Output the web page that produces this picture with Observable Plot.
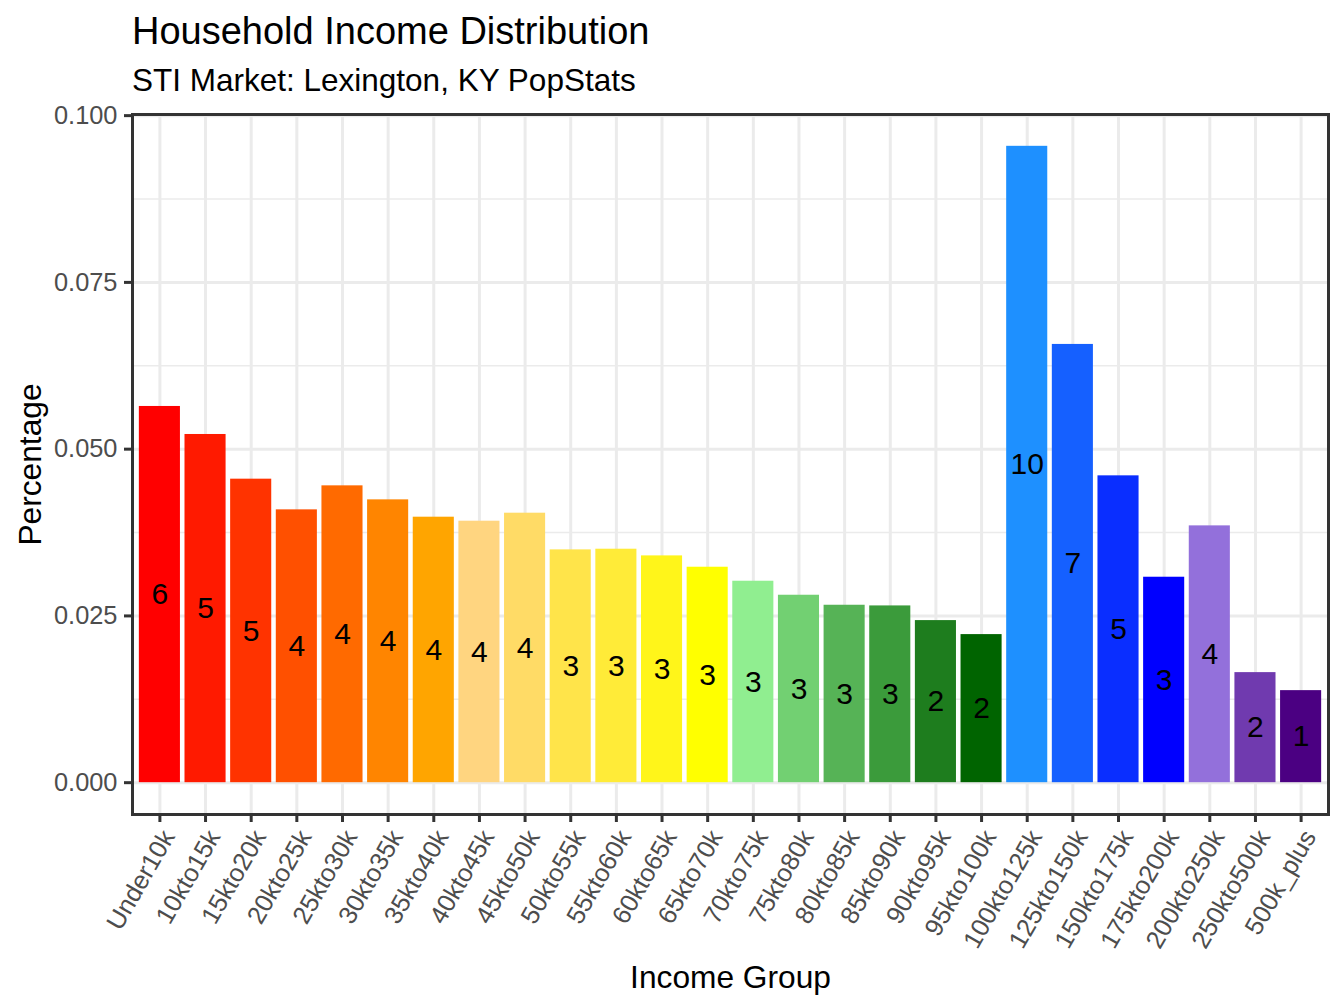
<!DOCTYPE html>
<html>
<head>
<meta charset="utf-8">
<script src="https://cdn.jsdelivr.net/npm/d3@7"></script>
<script src="https://cdn.jsdelivr.net/npm/@observablehq/plot@0.6"></script>
<style>
  html, body { margin: 0; padding: 0; background: #fff; }
  body { width: 1344px; height: 1008px; overflow: hidden; font-family: "Liberation Sans", Arial, sans-serif; }
  #title { position: absolute; left: 132px; top: 12px; font-size: 38px; line-height: 38px; color: #000; white-space: nowrap; }
  #subtitle { position: absolute; left: 132px; top: 64px; font-size: 31.5px; line-height: 32px; color: #000; white-space: nowrap; }
  #chart { position: absolute; left: 0; top: 100px; }
</style>
</head>
<body>
<div id="title">Household Income Distribution</div>
<div id="subtitle">STI Market: Lexington, KY PopStats</div>
<div id="chart"></div>
<script>
const groups = ["Under10k","10kto15k","15kto20k","20kto25k","25kto30k","30kto35k","35kto40k","40kto45k","45kto50k","50kto55k","55kto60k","60kto65k","65kto70k","70kto75k","75kto80k","80kto85k","85kto90k","90kto95k","95kto100k","100kto125k","125kto150k","150kto175k","175kto200k","200kto250k","250kto500k","500k_plus"];
const values = [0.0564,0.0522,0.0455,0.0409,0.0445,0.0424,0.0398,0.0392,0.0404,0.0349,0.0350,0.0340,0.0323,0.0302,0.0281,0.0266,0.0265,0.0243,0.0222,0.0954,0.0657,0.0460,0.0308,0.0385,0.0165,0.0138];
const labels = ["6","5","5","4","4","4","4","4","4","3","3","3","3","3","3","3","3","2","2","10","7","5","3","4","2","1"];
const colors = ["#FF0000","#FF1A00","#FF3300","#FF5000","#FF6A00","#FF8500","#FFA500","#FFD580","#FFDB66","#FFE44A","#FFEB38","#FFF51A","#FFFF00","#90EE90","#72D072","#56B356","#3B9B3B","#1E7D1E","#006400","#1E90FF","#1560FF","#0A2EFF","#0000FF","#9370DB","#703AAF","#4B0082"];
const yTicks = [0, 0.025, 0.05, 0.075, 0.1];
const yMinor = [0.0125, 0.0375, 0.0625, 0.0875];
const xTitle = "Income Group";
const yTitle = "Percentage";

const data = groups.map((g, i) => ({group: g, value: values[i], label: labels[i], color: colors[i]}));
const vmax = d3.max(values);
const pad = vmax * 0.05;
const font = "Liberation Sans, Arial, sans-serif";

const chart = Plot.plot({
  width: 1344,
  height: 908,
  marginLeft: 132,
  marginRight: 16,
  marginTop: 14,
  marginBottom: 194,
  style: {fontFamily: font, background: "#fff"},
  x: {type: "band", domain: groups, paddingInner: 0.1, paddingOuter: 0.15, round: false, align: 0.5, label: null},
  y: {domain: [-pad, vmax + pad], label: null},
  color: {type: "identity"},
  marks: [
    Plot.ruleY(yMinor, {stroke: "#EBEBEB", strokeWidth: 1.5}),
    Plot.ruleY(yTicks, {stroke: "#EBEBEB", strokeWidth: 3}),
    Plot.ruleX(groups, {x: d => d, stroke: "#EBEBEB", strokeWidth: 3}),
    Plot.barY(data, {x: "group", y: "value", fill: "color"}),
    Plot.text(data, {x: "group", y: d => d.value / 2, text: "label", fill: "#000", fontSize: 30}),
    Plot.frame({stroke: "#333333", strokeWidth: 3}),
    Plot.axisY({ticks: yTicks, tickFormat: d3.format(".3f"), tickSize: 8, tickPadding: 7, stroke: "#333333", strokeWidth: 3, fill: "#4D4D4D", fontSize: 25.4, label: null}),
    Plot.axisX({tickSize: 8, stroke: "#333333", strokeWidth: 3, tickFormat: null, label: null}),
    Plot.text(groups, {x: d => d, text: d => d, frameAnchor: "bottom", rotate: -60, textAnchor: "end", lineAnchor: "top", dy: 13, fontSize: 25.4, fill: "#4D4D4D"}),
    Plot.text([yTitle], {frameAnchor: "left", text: d => d, rotate: -90, textAnchor: "middle", lineAnchor: "bottom", dx: -92, fontSize: 31.7, fill: "#000"}),
    Plot.text([xTitle], {frameAnchor: "bottom", text: d => d, textAnchor: "middle", lineAnchor: "bottom", dy: 173, fontSize: 31.7, fill: "#000"})
  ]
});
document.getElementById("chart").appendChild(chart);
</script>
</body>
</html>
